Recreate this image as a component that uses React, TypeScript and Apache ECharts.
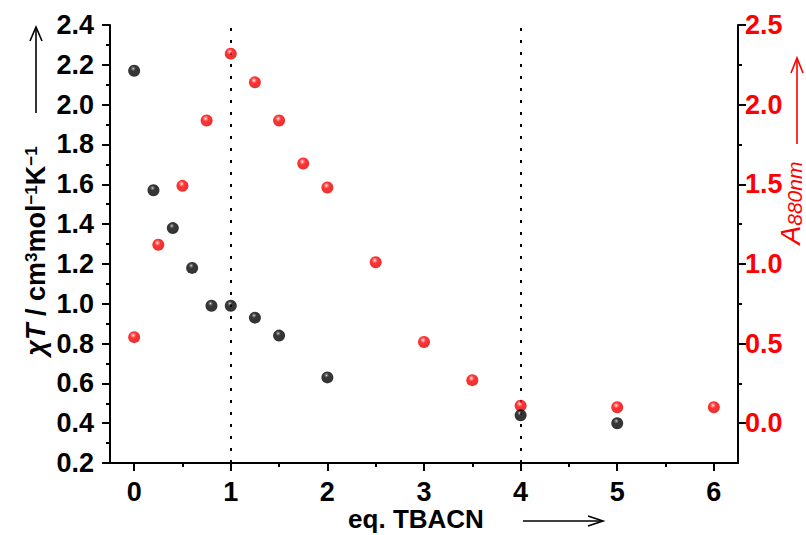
import React, { useEffect, useRef } from "react";
import * as echarts from "echarts";

const chiX = [0, 0.2, 0.4, 0.6, 0.8, 1, 1.25, 1.5, 2, 4, 5];
const chiT = [2.17, 1.57, 1.38, 1.18, 0.99, 0.99, 0.93, 0.84, 0.63, 0.44, 0.4];
const absX = [0, 0.25, 0.5, 0.75, 1, 1.25, 1.5, 1.75, 2, 2.5, 3, 3.5, 4, 5, 6];
const absY = [0.54, 1.12, 1.49, 1.9, 2.32, 2.14, 1.9, 1.63, 1.48, 1.01, 0.51, 0.27, 0.11, 0.1, 0.1];
const xTicks = [0, 1, 2, 3, 4, 5, 6];
const xMinorTicks = [0.5, 1.5, 2.5, 3.5, 4.5, 5.5];
const rightTicks = [0, 0.5, 1, 1.5, 2, 2.5];
const rightMinorTicks = [0.25, 0.75, 1.25, 1.75, 2.25];
const markX = [1, 4];

const FONT = "'Liberation Sans', Arial, sans-serif";

export default function App() {
  const ref = useRef<HTMLDivElement>(null);
  useEffect(() => {
    if (!ref.current) return;
    const chart = echarts.init(ref.current, null, { renderer: "svg" });
    const black = "#000";
    const red = "#ff0000";
    const redBall = {
      type: "radial", x: 0.42, y: 0.34, r: 0.66,
      colorStops: [
        { offset: 0, color: "#ffffff" },
        { offset: 0.16, color: "#ff7070" },
        { offset: 0.38, color: "#ff0000" },
        { offset: 1, color: "#dd0000" },
      ],
    };
    const blackBall = {
      type: "radial", x: 0.42, y: 0.32, r: 0.66,
      colorStops: [
        { offset: 0, color: "#e0e0e0" },
        { offset: 0.12, color: "#606060" },
        { offset: 0.32, color: "#050505" },
        { offset: 1, color: "#000000" },
      ],
    };
    const labelStyle = { fontFamily: FONT, fontWeight: "bold" as const, fontSize: 27 };
    chart.setOption({
      animation: false,
      grid: { left: 110, right: 68, top: 25, bottom: 72 },
      xAxis: [
        {
          type: "value", min: -0.25, max: 6.25, position: "bottom",
          axisLine: { show: true, onZero: false, lineStyle: { color: black, width: 2 } },
          axisTick: { show: true, customValues: xTicks, length: 8, lineStyle: { color: black, width: 2 } },
          axisLabel: { show: true, customValues: xTicks, color: black, margin: 15, ...labelStyle },
          splitLine: { show: false },
        },
        {
          type: "value", min: -0.25, max: 6.25, position: "bottom",
          axisLine: { show: false, onZero: false },
          axisTick: { show: true, customValues: xMinorTicks, length: 4, lineStyle: { color: black, width: 2 } },
          axisLabel: { show: false },
          splitLine: { show: false },
        },
      ],
      yAxis: [
        {
          type: "value", min: 0.2, max: 2.4, interval: 0.2, position: "left",
          axisLine: { show: true, onZero: false, lineStyle: { color: black, width: 2 } },
          axisTick: { show: true, length: 8, lineStyle: { color: black, width: 2 } },
          minorTick: { show: true, splitNumber: 2, length: 4, lineStyle: { color: black, width: 2 } },
          axisLabel: { color: black, margin: 16, formatter: (v: number) => v.toFixed(1), ...labelStyle },
          splitLine: { show: false },
        },
        {
          type: "value", min: -0.25, max: 2.5, position: "right",
          axisLine: { show: true, onZero: false, lineStyle: { color: black, width: 2 } },
          axisTick: { show: true, customValues: rightTicks, length: 8, lineStyle: { color: black, width: 2 } },
          axisLabel: { show: true, customValues: rightTicks, color: red, margin: 7, formatter: (v: number) => v.toFixed(1), ...labelStyle },
          splitLine: { show: false },
        },
        {
          type: "value", min: -0.25, max: 2.5, position: "right",
          axisLine: { show: false, onZero: false },
          axisTick: { show: true, customValues: rightMinorTicks, length: 4, lineStyle: { color: black, width: 2 } },
          axisLabel: { show: false },
          splitLine: { show: false },
        },
      ],
      series: [
        {
          type: "scatter", xAxisIndex: 0, yAxisIndex: 1, symbolSize: 12,
          data: absX.map((x, i) => [x, absY[i]]),
          itemStyle: { color: redBall as any },
          z: 3,
        },
        {
          type: "scatter", xAxisIndex: 0, yAxisIndex: 0, symbolSize: 12,
          data: chiX.map((x, i) => [x, chiT[i]]),
          itemStyle: { color: blackBall as any },
          z: 4,
          markLine: {
            silent: true, symbol: "none", label: { show: false },
            lineStyle: { color: black, width: 2, type: [3, 9] },
            data: markX.map((v) => ({ xAxis: v })),
            z: 1,
          },
        },
      ],
      graphic: [
        {
          type: "text", x: 36, y: 251, rotation: Math.PI / 2,
          style: {
            text: "{it|χT} / cm{sup|3}mol{sup|−1}K{sup|−1}",
            align: "center", verticalAlign: "middle",
            fontFamily: FONT, fontWeight: "bold", fontSize: 27, fill: black,
            rich: {
              it: { fontFamily: FONT, fontWeight: "bold", fontStyle: "italic", fontSize: 27, fill: black },
              sup: { fontFamily: FONT, fontWeight: "bold", fontSize: 17, fill: black, verticalAlign: "top" },
            },
          },
        },
        {
          type: "text", x: 790, y: 203, rotation: Math.PI / 2,
          style: {
            text: "{a|A}{sub|880nm}",
            align: "center", verticalAlign: "middle", fill: red,
            rich: {
              a: { fontFamily: FONT, fontStyle: "italic", fontSize: 28, fill: red },
              sub: { fontFamily: FONT, fontStyle: "italic", fontSize: 21, fill: red, verticalAlign: "bottom", padding: [8, 0, 0, 0] },
            },
          },
        },
        {
          type: "text", x: 416, y: 519,
          style: {
            text: "eq. TBACN", align: "center", verticalAlign: "middle",
            fontFamily: FONT, fontWeight: "bold", fontSize: 26, fill: black,
          },
        },
        { type: "line", shape: { x1: 36, y1: 113, x2: 36, y2: 28 }, style: { stroke: black, lineWidth: 1.6 } },
        { type: "polyline", shape: { points: [[30, 41], [36, 27], [42, 41]] }, style: { stroke: black, lineWidth: 1.6, fill: "none" } },
        { type: "line", shape: { x1: 797, y1: 144, x2: 797, y2: 59 }, style: { stroke: red, lineWidth: 1.6 } },
        { type: "polyline", shape: { points: [[791, 73], [797, 58], [803, 73]] }, style: { stroke: red, lineWidth: 1.6, fill: "none" } },
        { type: "line", shape: { x1: 523, y1: 521, x2: 602, y2: 521 }, style: { stroke: black, lineWidth: 1.6 } },
        { type: "polyline", shape: { points: [[588, 516], [603, 521], [588, 526]] }, style: { stroke: black, lineWidth: 1.6, fill: "none" } },
      ],
    });
    return () => chart.dispose();
  }, []);
  return <div ref={ref} style={{ width: 806, height: 535, position: "absolute", left: 0, top: 0 }} />;
}
